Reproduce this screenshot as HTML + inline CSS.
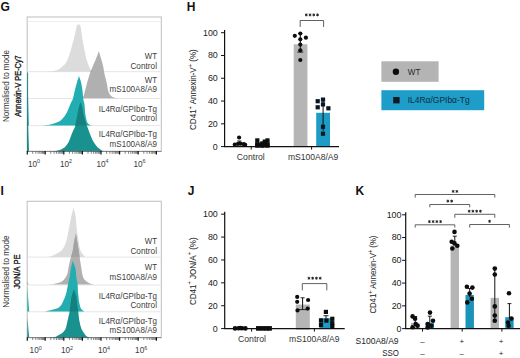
<!DOCTYPE html>
<html><head><meta charset="utf-8"><style>
html,body{margin:0;padding:0;background:#fff;}
svg{display:block;font-family:"Liberation Sans", sans-serif;}
</style></head><body>
<svg width="520" height="358" viewBox="0 0 520 358">
<defs><clipPath id="clipLG"><path d="M40.00 71.70 C41.33 71.67 45.58 71.67 48.00 71.50 C50.42 71.33 52.67 71.08 54.50 70.70 C56.33 70.32 57.32 70.22 59.00 69.20 C60.68 68.18 63.10 66.38 64.60 64.60 C66.10 62.82 67.00 60.80 68.00 58.50 C69.00 56.20 69.48 54.65 70.60 50.80 C71.72 46.95 73.63 39.60 74.70 35.40 C75.77 31.20 76.32 27.40 77.00 25.60 C77.68 23.80 78.50 24.77 78.80 24.60 C79.07 24.77 79.88 23.80 80.40 25.60 C80.92 27.40 81.20 31.20 81.90 35.40 C82.60 39.60 83.87 46.95 84.60 50.80 C85.33 54.65 85.70 56.20 86.30 58.50 C86.90 60.80 87.52 62.82 88.20 64.60 C88.88 66.38 89.63 68.02 90.40 69.20 C91.17 70.38 92.40 71.28 92.80 71.70 Z"/></clipPath><clipPath id="clipG"><path d="M40.00 125.50 C41.00 125.45 44.25 125.37 46.00 125.20 C47.75 125.03 48.58 124.98 50.50 124.50 C52.42 124.02 55.72 123.03 57.50 122.30 C59.28 121.57 59.87 121.35 61.20 120.10 C62.53 118.85 64.33 116.58 65.50 114.80 C66.67 113.02 67.38 111.20 68.20 109.40 C69.02 107.60 69.63 105.72 70.40 104.00 C71.17 102.28 72.08 101.27 72.80 99.10 C73.52 96.93 74.03 93.70 74.70 91.00 C75.37 88.30 76.08 85.38 76.80 82.90 C77.52 80.42 78.63 77.23 79.00 76.10 C79.37 77.23 80.62 80.42 81.20 82.90 C81.78 85.38 82.15 88.30 82.50 91.00 C82.85 93.70 82.98 96.93 83.30 99.10 C83.62 101.27 84.13 102.28 84.40 104.00 C84.67 105.72 84.73 107.60 84.90 109.40 C85.07 111.20 85.13 113.02 85.40 114.80 C85.67 116.58 86.22 118.85 86.50 120.10 C86.78 121.35 86.65 121.57 87.10 122.30 C87.55 123.03 88.38 123.97 89.20 124.50 C90.02 125.03 91.53 125.33 92.00 125.50 Z"/></clipPath><clipPath id="clipLI"><path d="M44.00 257.00 C45.00 256.92 48.00 257.00 50.00 256.50 C52.00 256.00 54.13 254.95 56.00 254.00 C57.87 253.05 59.78 252.13 61.20 250.80 C62.62 249.47 63.58 247.85 64.50 246.00 C65.42 244.15 66.07 242.08 66.70 239.70 C67.33 237.32 67.77 234.37 68.30 231.70 C68.83 229.03 69.37 226.37 69.90 223.70 C70.43 221.03 70.88 218.35 71.50 215.70 C72.12 213.05 73.25 209.12 73.60 207.80 C73.92 209.12 75.05 213.05 75.50 215.70 C75.95 218.35 76.03 221.03 76.30 223.70 C76.57 226.37 76.75 229.03 77.10 231.70 C77.45 234.37 78.03 237.32 78.40 239.70 C78.77 242.08 78.93 244.15 79.30 246.00 C79.67 247.85 80.05 249.47 80.60 250.80 C81.15 252.13 81.78 252.97 82.60 254.00 C83.42 255.03 85.02 256.50 85.50 257.00 Z"/></clipPath><clipPath id="clipI"><path d="M44.00 311.60 C44.92 311.42 47.35 311.00 49.50 310.50 C51.65 310.00 55.02 309.43 56.90 308.60 C58.78 307.77 59.72 306.80 60.80 305.50 C61.88 304.20 62.67 302.28 63.40 300.80 C64.13 299.32 64.68 298.07 65.20 296.60 C65.72 295.13 66.03 294.02 66.50 292.00 C66.97 289.98 67.48 287.00 68.00 284.50 C68.52 282.00 69.12 279.65 69.60 277.00 C70.08 274.35 70.40 271.27 70.90 268.60 C71.40 265.93 72.32 262.27 72.60 261.00 C73.08 262.27 74.88 265.93 75.50 268.60 C76.12 271.27 75.95 274.35 76.30 277.00 C76.65 279.65 77.32 282.00 77.60 284.50 C77.88 287.00 77.85 289.98 78.00 292.00 C78.15 294.02 78.35 295.13 78.50 296.60 C78.65 298.07 78.68 299.40 78.90 300.80 C79.12 302.20 79.47 303.70 79.80 305.00 C80.13 306.30 80.40 307.68 80.90 308.60 C81.40 309.52 82.12 310.00 82.80 310.50 C83.48 311.00 84.63 311.42 85.00 311.60 Z"/></clipPath></defs>
<rect width="520" height="358" fill="#fff"/>
<rect x="27.2" y="17" width="134.10000000000002" height="134.4" fill="#fff" stroke="#c4c4c4" stroke-width="1.1"/>
<line x1="28" y1="71.7" x2="160.8" y2="71.7" stroke="#e6e6e6" stroke-width="1"/>
<line x1="28" y1="98.5" x2="160.8" y2="98.5" stroke="#e6e6e6" stroke-width="1"/>
<line x1="28" y1="125.6" x2="160.8" y2="125.6" stroke="#e6e6e6" stroke-width="1"/>
<path d="M40.00 71.70 C41.33 71.67 45.58 71.67 48.00 71.50 C50.42 71.33 52.67 71.08 54.50 70.70 C56.33 70.32 57.32 70.22 59.00 69.20 C60.68 68.18 63.10 66.38 64.60 64.60 C66.10 62.82 67.00 60.80 68.00 58.50 C69.00 56.20 69.48 54.65 70.60 50.80 C71.72 46.95 73.63 39.60 74.70 35.40 C75.77 31.20 76.32 27.40 77.00 25.60 C77.68 23.80 78.50 24.77 78.80 24.60 C79.07 24.77 79.88 23.80 80.40 25.60 C80.92 27.40 81.20 31.20 81.90 35.40 C82.60 39.60 83.87 46.95 84.60 50.80 C85.33 54.65 85.70 56.20 86.30 58.50 C86.90 60.80 87.52 62.82 88.20 64.60 C88.88 66.38 89.63 68.02 90.40 69.20 C91.17 70.38 92.40 71.28 92.80 71.70 Z" fill="#dcdcdc" />
<path d="M81.00 98.30 C81.40 98.00 82.75 97.68 83.40 96.50 C84.05 95.32 84.27 93.53 84.90 91.20 C85.53 88.87 86.40 85.37 87.20 82.50 C88.00 79.63 88.82 76.58 89.70 74.00 C90.58 71.42 91.53 69.33 92.50 67.00 C93.47 64.67 94.43 62.63 95.50 60.00 C96.57 57.37 98.33 52.67 98.90 51.20 C99.33 52.67 100.77 57.37 101.50 60.00 C102.23 62.63 102.80 64.67 103.30 67.00 C103.80 69.33 103.95 71.42 104.50 74.00 C105.05 76.58 105.97 79.67 106.60 82.50 C107.23 85.33 107.65 88.88 108.30 91.00 C108.95 93.12 109.58 94.10 110.50 95.20 C111.42 96.30 112.55 97.08 113.80 97.60 C115.05 98.12 117.30 98.18 118.00 98.30 Z" fill="#b0b0b0" />
<path d="M81.00 98.30 C81.40 98.00 82.75 97.68 83.40 96.50 C84.05 95.32 84.27 93.53 84.90 91.20 C85.53 88.87 86.40 85.37 87.20 82.50 C88.00 79.63 88.82 76.58 89.70 74.00 C90.58 71.42 91.53 69.33 92.50 67.00 C93.47 64.67 94.43 62.63 95.50 60.00 C96.57 57.37 98.33 52.67 98.90 51.20 C99.33 52.67 100.77 57.37 101.50 60.00 C102.23 62.63 102.80 64.67 103.30 67.00 C103.80 69.33 103.95 71.42 104.50 74.00 C105.05 76.58 105.97 79.67 106.60 82.50 C107.23 85.33 107.65 88.88 108.30 91.00 C108.95 93.12 109.58 94.10 110.50 95.20 C111.42 96.30 112.55 97.08 113.80 97.60 C115.05 98.12 117.30 98.18 118.00 98.30 Z" fill="#a3a3a3" clip-path="url(#clipLG)"/>
<path d="M40.00 125.50 C41.00 125.45 44.25 125.37 46.00 125.20 C47.75 125.03 48.58 124.98 50.50 124.50 C52.42 124.02 55.72 123.03 57.50 122.30 C59.28 121.57 59.87 121.35 61.20 120.10 C62.53 118.85 64.33 116.58 65.50 114.80 C66.67 113.02 67.38 111.20 68.20 109.40 C69.02 107.60 69.63 105.72 70.40 104.00 C71.17 102.28 72.08 101.27 72.80 99.10 C73.52 96.93 74.03 93.70 74.70 91.00 C75.37 88.30 76.08 85.38 76.80 82.90 C77.52 80.42 78.63 77.23 79.00 76.10 C79.37 77.23 80.62 80.42 81.20 82.90 C81.78 85.38 82.15 88.30 82.50 91.00 C82.85 93.70 82.98 96.93 83.30 99.10 C83.62 101.27 84.13 102.28 84.40 104.00 C84.67 105.72 84.73 107.60 84.90 109.40 C85.07 111.20 85.13 113.02 85.40 114.80 C85.67 116.58 86.22 118.85 86.50 120.10 C86.78 121.35 86.65 121.57 87.10 122.30 C87.55 123.03 88.38 123.97 89.20 124.50 C90.02 125.03 91.53 125.33 92.00 125.50 Z" fill="#22aeb1" />
<path d="M48.00 151.60 C48.67 151.57 50.75 151.50 52.00 151.40 C53.25 151.30 54.42 151.18 55.50 151.00 C56.58 150.82 57.50 150.60 58.50 150.30 C59.50 150.00 60.42 149.77 61.50 149.20 C62.58 148.63 63.83 148.05 65.00 146.90 C66.17 145.75 67.53 144.03 68.50 142.30 C69.47 140.57 70.05 138.38 70.80 136.50 C71.55 134.62 72.33 132.53 73.00 131.00 C73.67 129.47 74.35 128.55 74.80 127.30 C75.25 126.05 75.28 125.47 75.70 123.50 C76.12 121.53 76.77 118.15 77.30 115.50 C77.83 112.85 78.37 109.85 78.90 107.60 C79.43 105.35 80.23 102.93 80.50 102.00 C80.77 102.93 81.57 105.35 82.10 107.60 C82.63 109.85 83.05 112.85 83.70 115.50 C84.35 118.15 85.37 121.53 86.00 123.50 C86.63 125.47 86.67 125.13 87.50 127.30 C88.33 129.47 89.95 134.00 91.00 136.50 C92.05 139.00 92.75 140.57 93.80 142.30 C94.85 144.03 96.23 145.75 97.30 146.90 C98.37 148.05 99.17 148.42 100.20 149.20 C101.23 149.98 102.95 151.20 103.50 151.60 Z" fill="#19918f" />
<path d="M48.00 151.60 C48.67 151.57 50.75 151.50 52.00 151.40 C53.25 151.30 54.42 151.18 55.50 151.00 C56.58 150.82 57.50 150.60 58.50 150.30 C59.50 150.00 60.42 149.77 61.50 149.20 C62.58 148.63 63.83 148.05 65.00 146.90 C66.17 145.75 67.53 144.03 68.50 142.30 C69.47 140.57 70.05 138.38 70.80 136.50 C71.55 134.62 72.33 132.53 73.00 131.00 C73.67 129.47 74.35 128.55 74.80 127.30 C75.25 126.05 75.28 125.47 75.70 123.50 C76.12 121.53 76.77 118.15 77.30 115.50 C77.83 112.85 78.37 109.85 78.90 107.60 C79.43 105.35 80.23 102.93 80.50 102.00 C80.77 102.93 81.57 105.35 82.10 107.60 C82.63 109.85 83.05 112.85 83.70 115.50 C84.35 118.15 85.37 121.53 86.00 123.50 C86.63 125.47 86.67 125.13 87.50 127.30 C88.33 129.47 89.95 134.00 91.00 136.50 C92.05 139.00 92.75 140.57 93.80 142.30 C94.85 144.03 96.23 145.75 97.30 146.90 C98.37 148.05 99.17 148.42 100.20 149.20 C101.23 149.98 102.95 151.20 103.50 151.60 Z" fill="#15807e" clip-path="url(#clipG)"/>
<path d="M27.3 125.5 L27.3 72.2 L28.9 125.5 Z" fill="#22aeb1"/>
<path d="M27.3 151.4 L27.3 99 L29 151.4 Z" fill="#19918f"/>
<line x1="27.6" y1="72.5" x2="27.6" y2="151.4" stroke="#16807f" stroke-width="0.9"/>
<text x="157" y="59.0" font-size="8.3" text-anchor="end" font-weight="normal" fill="#3c3c3c" textLength="12.2" lengthAdjust="spacingAndGlyphs" >WT</text>
<text x="157" y="68.8" font-size="8.3" text-anchor="end" font-weight="normal" fill="#3c3c3c" textLength="26.6" lengthAdjust="spacingAndGlyphs" >Control</text>
<text x="157" y="82.9" font-size="8.3" text-anchor="end" font-weight="normal" fill="#3c3c3c" textLength="12.2" lengthAdjust="spacingAndGlyphs" >WT</text>
<text x="157" y="92.4" font-size="8.3" text-anchor="end" font-weight="normal" fill="#3c3c3c" textLength="47.4" lengthAdjust="spacingAndGlyphs" >mS100A8/A9</text>
<text x="157" y="111.8" font-size="8.3" text-anchor="end" font-weight="normal" fill="#3c3c3c" textLength="58.2" lengthAdjust="spacingAndGlyphs" >IL4R&#945;/GPIb&#945;-Tg</text>
<text x="157" y="120.7" font-size="8.3" text-anchor="end" font-weight="normal" fill="#3c3c3c" textLength="26.6" lengthAdjust="spacingAndGlyphs" >Control</text>
<text x="157" y="137.3" font-size="8.3" text-anchor="end" font-weight="normal" fill="#3c3c3c" textLength="58.2" lengthAdjust="spacingAndGlyphs" >IL4R&#945;/GPIb&#945;-Tg</text>
<text x="157" y="147.0" font-size="8.3" text-anchor="end" font-weight="normal" fill="#3c3c3c" textLength="47.4" lengthAdjust="spacingAndGlyphs" >mS100A8/A9</text>
<line x1="27.3" y1="151.4" x2="161.3" y2="151.4" stroke="#666" stroke-width="0.7"/>
<line x1="32.69" y1="151.4" x2="32.69" y2="153.8" stroke="#333" stroke-width="0.6"/>
<line x1="35.84" y1="151.4" x2="35.84" y2="153.8" stroke="#333" stroke-width="0.6"/>
<line x1="38.08" y1="151.4" x2="38.08" y2="153.8" stroke="#333" stroke-width="0.6"/>
<line x1="39.81" y1="151.4" x2="39.81" y2="153.8" stroke="#333" stroke-width="0.6"/>
<line x1="41.23" y1="151.4" x2="41.23" y2="153.8" stroke="#333" stroke-width="0.6"/>
<line x1="42.43" y1="151.4" x2="42.43" y2="153.8" stroke="#333" stroke-width="0.6"/>
<line x1="43.47" y1="151.4" x2="43.47" y2="153.8" stroke="#333" stroke-width="0.6"/>
<line x1="44.38" y1="151.4" x2="44.38" y2="153.8" stroke="#333" stroke-width="0.6"/>
<line x1="27.30" y1="151.1" x2="27.30" y2="154.6" stroke="#111" stroke-width="1.2"/>
<line x1="50.80" y1="151.4" x2="50.80" y2="153.8" stroke="#333" stroke-width="0.6"/>
<line x1="54.07" y1="151.4" x2="54.07" y2="153.8" stroke="#333" stroke-width="0.6"/>
<line x1="56.40" y1="151.4" x2="56.40" y2="153.8" stroke="#333" stroke-width="0.6"/>
<line x1="58.20" y1="151.4" x2="58.20" y2="153.8" stroke="#333" stroke-width="0.6"/>
<line x1="59.67" y1="151.4" x2="59.67" y2="153.8" stroke="#333" stroke-width="0.6"/>
<line x1="60.92" y1="151.4" x2="60.92" y2="153.8" stroke="#333" stroke-width="0.6"/>
<line x1="62.00" y1="151.4" x2="62.00" y2="153.8" stroke="#333" stroke-width="0.6"/>
<line x1="62.95" y1="151.4" x2="62.95" y2="153.8" stroke="#333" stroke-width="0.6"/>
<line x1="45.20" y1="151.1" x2="45.20" y2="154.6" stroke="#111" stroke-width="1.2"/>
<line x1="69.40" y1="151.4" x2="69.40" y2="153.8" stroke="#333" stroke-width="0.6"/>
<line x1="72.67" y1="151.4" x2="72.67" y2="153.8" stroke="#333" stroke-width="0.6"/>
<line x1="75.00" y1="151.4" x2="75.00" y2="153.8" stroke="#333" stroke-width="0.6"/>
<line x1="76.80" y1="151.4" x2="76.80" y2="153.8" stroke="#333" stroke-width="0.6"/>
<line x1="78.27" y1="151.4" x2="78.27" y2="153.8" stroke="#333" stroke-width="0.6"/>
<line x1="79.52" y1="151.4" x2="79.52" y2="153.8" stroke="#333" stroke-width="0.6"/>
<line x1="80.60" y1="151.4" x2="80.60" y2="153.8" stroke="#333" stroke-width="0.6"/>
<line x1="81.55" y1="151.4" x2="81.55" y2="153.8" stroke="#333" stroke-width="0.6"/>
<line x1="63.80" y1="151.1" x2="63.80" y2="154.6" stroke="#111" stroke-width="1.2"/>
<line x1="88.00" y1="151.4" x2="88.00" y2="153.8" stroke="#333" stroke-width="0.6"/>
<line x1="91.27" y1="151.4" x2="91.27" y2="153.8" stroke="#333" stroke-width="0.6"/>
<line x1="93.60" y1="151.4" x2="93.60" y2="153.8" stroke="#333" stroke-width="0.6"/>
<line x1="95.40" y1="151.4" x2="95.40" y2="153.8" stroke="#333" stroke-width="0.6"/>
<line x1="96.87" y1="151.4" x2="96.87" y2="153.8" stroke="#333" stroke-width="0.6"/>
<line x1="98.12" y1="151.4" x2="98.12" y2="153.8" stroke="#333" stroke-width="0.6"/>
<line x1="99.20" y1="151.4" x2="99.20" y2="153.8" stroke="#333" stroke-width="0.6"/>
<line x1="100.15" y1="151.4" x2="100.15" y2="153.8" stroke="#333" stroke-width="0.6"/>
<line x1="82.40" y1="151.1" x2="82.40" y2="154.6" stroke="#111" stroke-width="1.2"/>
<line x1="106.60" y1="151.4" x2="106.60" y2="153.8" stroke="#333" stroke-width="0.6"/>
<line x1="109.87" y1="151.4" x2="109.87" y2="153.8" stroke="#333" stroke-width="0.6"/>
<line x1="112.20" y1="151.4" x2="112.20" y2="153.8" stroke="#333" stroke-width="0.6"/>
<line x1="114.00" y1="151.4" x2="114.00" y2="153.8" stroke="#333" stroke-width="0.6"/>
<line x1="115.47" y1="151.4" x2="115.47" y2="153.8" stroke="#333" stroke-width="0.6"/>
<line x1="116.72" y1="151.4" x2="116.72" y2="153.8" stroke="#333" stroke-width="0.6"/>
<line x1="117.80" y1="151.4" x2="117.80" y2="153.8" stroke="#333" stroke-width="0.6"/>
<line x1="118.75" y1="151.4" x2="118.75" y2="153.8" stroke="#333" stroke-width="0.6"/>
<line x1="101.00" y1="151.1" x2="101.00" y2="154.6" stroke="#111" stroke-width="1.2"/>
<line x1="125.20" y1="151.4" x2="125.20" y2="153.8" stroke="#333" stroke-width="0.6"/>
<line x1="128.47" y1="151.4" x2="128.47" y2="153.8" stroke="#333" stroke-width="0.6"/>
<line x1="130.80" y1="151.4" x2="130.80" y2="153.8" stroke="#333" stroke-width="0.6"/>
<line x1="132.60" y1="151.4" x2="132.60" y2="153.8" stroke="#333" stroke-width="0.6"/>
<line x1="134.07" y1="151.4" x2="134.07" y2="153.8" stroke="#333" stroke-width="0.6"/>
<line x1="135.32" y1="151.4" x2="135.32" y2="153.8" stroke="#333" stroke-width="0.6"/>
<line x1="136.40" y1="151.4" x2="136.40" y2="153.8" stroke="#333" stroke-width="0.6"/>
<line x1="137.35" y1="151.4" x2="137.35" y2="153.8" stroke="#333" stroke-width="0.6"/>
<line x1="119.60" y1="151.1" x2="119.60" y2="154.6" stroke="#111" stroke-width="1.2"/>
<line x1="143.80" y1="151.4" x2="143.80" y2="153.8" stroke="#333" stroke-width="0.6"/>
<line x1="147.07" y1="151.4" x2="147.07" y2="153.8" stroke="#333" stroke-width="0.6"/>
<line x1="149.40" y1="151.4" x2="149.40" y2="153.8" stroke="#333" stroke-width="0.6"/>
<line x1="151.20" y1="151.4" x2="151.20" y2="153.8" stroke="#333" stroke-width="0.6"/>
<line x1="152.67" y1="151.4" x2="152.67" y2="153.8" stroke="#333" stroke-width="0.6"/>
<line x1="153.92" y1="151.4" x2="153.92" y2="153.8" stroke="#333" stroke-width="0.6"/>
<line x1="155.00" y1="151.4" x2="155.00" y2="153.8" stroke="#333" stroke-width="0.6"/>
<line x1="155.95" y1="151.4" x2="155.95" y2="153.8" stroke="#333" stroke-width="0.6"/>
<line x1="138.20" y1="151.1" x2="138.20" y2="154.6" stroke="#111" stroke-width="1.2"/>
<line x1="156.4" y1="151.1" x2="156.4" y2="154.6" stroke="#111" stroke-width="1.2"/>
<text x="28.0" y="166.7" font-size="8.2" fill="#3c3c3c">10<tspan font-size="5.4" dy="-3.7">0</tspan></text>
<text x="60.0" y="166.7" font-size="8.2" fill="#3c3c3c">10<tspan font-size="5.4" dy="-3.7">2</tspan></text>
<text x="96.4" y="166.7" font-size="8.2" fill="#3c3c3c">10<tspan font-size="5.4" dy="-3.7">4</tspan></text>
<text x="133.39999999999998" y="166.7" font-size="8.2" fill="#3c3c3c">10<tspan font-size="5.4" dy="-3.7">6</tspan></text>
<text x="8.7" y="86" font-size="8.8" text-anchor="middle" font-weight="normal" fill="#333" textLength="72" lengthAdjust="spacingAndGlyphs" transform="rotate(-90 8.7 86)" >Normalised to mode</text>
<text x="20.5" y="86" font-size="8.8" text-anchor="middle" font-weight="normal" fill="#1a1a1a" textLength="61.3" lengthAdjust="spacingAndGlyphs" transform="rotate(-90 20.5 86)" stroke="#1a1a1a" stroke-width="0.35">Annexin-V PE-Cy7</text>
<text x="0.6" y="10.9" font-size="12" text-anchor="start" font-weight="bold" fill="#111" >G</text>
<line x1="28" y1="21.5" x2="160.8" y2="21.5" stroke="#efefef" stroke-width="1"/>
<rect x="27.2" y="201.3" width="134.10000000000002" height="136.3" fill="#fff" stroke="#c4c4c4" stroke-width="1.1"/>
<line x1="28" y1="257.1" x2="160.8" y2="257.1" stroke="#e6e6e6" stroke-width="1"/>
<line x1="28" y1="285" x2="160.8" y2="285" stroke="#e6e6e6" stroke-width="1"/>
<line x1="28" y1="311.8" x2="160.8" y2="311.8" stroke="#e6e6e6" stroke-width="1"/>
<path d="M44.00 257.00 C45.00 256.92 48.00 257.00 50.00 256.50 C52.00 256.00 54.13 254.95 56.00 254.00 C57.87 253.05 59.78 252.13 61.20 250.80 C62.62 249.47 63.58 247.85 64.50 246.00 C65.42 244.15 66.07 242.08 66.70 239.70 C67.33 237.32 67.77 234.37 68.30 231.70 C68.83 229.03 69.37 226.37 69.90 223.70 C70.43 221.03 70.88 218.35 71.50 215.70 C72.12 213.05 73.25 209.12 73.60 207.80 C73.92 209.12 75.05 213.05 75.50 215.70 C75.95 218.35 76.03 221.03 76.30 223.70 C76.57 226.37 76.75 229.03 77.10 231.70 C77.45 234.37 78.03 237.32 78.40 239.70 C78.77 242.08 78.93 244.15 79.30 246.00 C79.67 247.85 80.05 249.47 80.60 250.80 C81.15 252.13 81.78 252.97 82.60 254.00 C83.42 255.03 85.02 256.50 85.50 257.00 Z" fill="#dcdcdc" />
<path d="M48.00 284.50 C49.00 284.42 52.08 284.32 54.00 284.00 C55.92 283.68 58.08 283.08 59.50 282.60 C60.92 282.12 61.43 282.03 62.50 281.10 C63.57 280.17 65.05 278.35 65.90 277.00 C66.75 275.65 67.18 274.40 67.60 273.00 C68.02 271.60 67.98 270.73 68.40 268.60 C68.82 266.47 69.38 263.13 70.10 260.20 C70.82 257.27 72.07 253.87 72.70 251.00 C73.33 248.13 73.37 245.90 73.90 243.00 C74.43 240.10 75.57 235.17 75.90 233.60 C76.17 235.17 77.02 240.10 77.50 243.00 C77.98 245.90 78.37 248.13 78.80 251.00 C79.23 253.87 79.67 257.27 80.10 260.20 C80.53 263.13 80.92 265.80 81.40 268.60 C81.88 271.40 82.23 274.92 83.00 277.00 C83.77 279.08 84.92 280.05 86.00 281.10 C87.08 282.15 88.17 282.73 89.50 283.30 C90.83 283.87 93.25 284.30 94.00 284.50 Z" fill="#b0b0b0" />
<path d="M48.00 284.50 C49.00 284.42 52.08 284.32 54.00 284.00 C55.92 283.68 58.08 283.08 59.50 282.60 C60.92 282.12 61.43 282.03 62.50 281.10 C63.57 280.17 65.05 278.35 65.90 277.00 C66.75 275.65 67.18 274.40 67.60 273.00 C68.02 271.60 67.98 270.73 68.40 268.60 C68.82 266.47 69.38 263.13 70.10 260.20 C70.82 257.27 72.07 253.87 72.70 251.00 C73.33 248.13 73.37 245.90 73.90 243.00 C74.43 240.10 75.57 235.17 75.90 233.60 C76.17 235.17 77.02 240.10 77.50 243.00 C77.98 245.90 78.37 248.13 78.80 251.00 C79.23 253.87 79.67 257.27 80.10 260.20 C80.53 263.13 80.92 265.80 81.40 268.60 C81.88 271.40 82.23 274.92 83.00 277.00 C83.77 279.08 84.92 280.05 86.00 281.10 C87.08 282.15 88.17 282.73 89.50 283.30 C90.83 283.87 93.25 284.30 94.00 284.50 Z" fill="#a3a3a3" clip-path="url(#clipLI)"/>
<path d="M44.00 311.60 C44.92 311.42 47.35 311.00 49.50 310.50 C51.65 310.00 55.02 309.43 56.90 308.60 C58.78 307.77 59.72 306.80 60.80 305.50 C61.88 304.20 62.67 302.28 63.40 300.80 C64.13 299.32 64.68 298.07 65.20 296.60 C65.72 295.13 66.03 294.02 66.50 292.00 C66.97 289.98 67.48 287.00 68.00 284.50 C68.52 282.00 69.12 279.65 69.60 277.00 C70.08 274.35 70.40 271.27 70.90 268.60 C71.40 265.93 72.32 262.27 72.60 261.00 C73.08 262.27 74.88 265.93 75.50 268.60 C76.12 271.27 75.95 274.35 76.30 277.00 C76.65 279.65 77.32 282.00 77.60 284.50 C77.88 287.00 77.85 289.98 78.00 292.00 C78.15 294.02 78.35 295.13 78.50 296.60 C78.65 298.07 78.68 299.40 78.90 300.80 C79.12 302.20 79.47 303.70 79.80 305.00 C80.13 306.30 80.40 307.68 80.90 308.60 C81.40 309.52 82.12 310.00 82.80 310.50 C83.48 311.00 84.63 311.42 85.00 311.60 Z" fill="#22aeb1" />
<path d="M48.00 337.90 C49.15 337.75 53.33 337.35 54.90 337.00 C56.47 336.65 56.22 336.42 57.40 335.80 C58.58 335.18 60.78 334.22 62.00 333.30 C63.22 332.38 64.02 331.32 64.70 330.30 C65.38 329.28 65.63 328.73 66.10 327.20 C66.57 325.67 67.08 322.97 67.50 321.10 C67.92 319.23 68.25 317.57 68.60 316.00 C68.95 314.43 69.28 313.53 69.60 311.70 C69.92 309.87 70.15 307.52 70.50 305.00 C70.85 302.48 71.13 299.17 71.70 296.60 C72.27 294.03 73.53 290.77 73.90 289.60 C74.30 290.77 75.75 294.03 76.30 296.60 C76.85 299.17 76.87 302.48 77.20 305.00 C77.53 307.52 77.97 309.23 78.30 311.70 C78.63 314.17 78.75 317.15 79.20 319.80 C79.65 322.45 80.38 325.65 81.00 327.60 C81.62 329.55 82.12 330.20 82.90 331.50 C83.68 332.80 84.85 334.48 85.70 335.40 C86.55 336.32 87.20 336.58 88.00 337.00 C88.80 337.42 90.08 337.75 90.50 337.90 Z" fill="#19918f" />
<path d="M48.00 337.90 C49.15 337.75 53.33 337.35 54.90 337.00 C56.47 336.65 56.22 336.42 57.40 335.80 C58.58 335.18 60.78 334.22 62.00 333.30 C63.22 332.38 64.02 331.32 64.70 330.30 C65.38 329.28 65.63 328.73 66.10 327.20 C66.57 325.67 67.08 322.97 67.50 321.10 C67.92 319.23 68.25 317.57 68.60 316.00 C68.95 314.43 69.28 313.53 69.60 311.70 C69.92 309.87 70.15 307.52 70.50 305.00 C70.85 302.48 71.13 299.17 71.70 296.60 C72.27 294.03 73.53 290.77 73.90 289.60 C74.30 290.77 75.75 294.03 76.30 296.60 C76.85 299.17 76.87 302.48 77.20 305.00 C77.53 307.52 77.97 309.23 78.30 311.70 C78.63 314.17 78.75 317.15 79.20 319.80 C79.65 322.45 80.38 325.65 81.00 327.60 C81.62 329.55 82.12 330.20 82.90 331.50 C83.68 332.80 84.85 334.48 85.70 335.40 C86.55 336.32 87.20 336.58 88.00 337.00 C88.80 337.42 90.08 337.75 90.50 337.90 Z" fill="#15807e" clip-path="url(#clipI)"/>
<path d="M27.3 284.5 L27.3 280.5 L28.6 284.5 Z" fill="#b0b0b0"/>
<path d="M27.3 311.6 L27.3 286.5 L29.2 311.6 Z" fill="#22aeb1"/>
<path d="M27.3 337.6 L27.3 317.5 L29.2 337.6 Z" fill="#19918f"/>
<text x="157" y="244.1" font-size="8.3" text-anchor="end" font-weight="normal" fill="#3c3c3c" textLength="12.2" lengthAdjust="spacingAndGlyphs" >WT</text>
<text x="157" y="253.8" font-size="8.3" text-anchor="end" font-weight="normal" fill="#3c3c3c" textLength="26.6" lengthAdjust="spacingAndGlyphs" >Control</text>
<text x="157" y="270.4" font-size="8.3" text-anchor="end" font-weight="normal" fill="#3c3c3c" textLength="12.2" lengthAdjust="spacingAndGlyphs" >WT</text>
<text x="157" y="279.8" font-size="8.3" text-anchor="end" font-weight="normal" fill="#3c3c3c" textLength="47.4" lengthAdjust="spacingAndGlyphs" >mS100A8/A9</text>
<text x="157" y="298.6" font-size="8.3" text-anchor="end" font-weight="normal" fill="#3c3c3c" textLength="58.2" lengthAdjust="spacingAndGlyphs" >IL4R&#945;/GPIb&#945;-Tg</text>
<text x="157" y="308.1" font-size="8.3" text-anchor="end" font-weight="normal" fill="#3c3c3c" textLength="26.6" lengthAdjust="spacingAndGlyphs" >Control</text>
<text x="157" y="323.8" font-size="8.3" text-anchor="end" font-weight="normal" fill="#3c3c3c" textLength="58.2" lengthAdjust="spacingAndGlyphs" >IL4R&#945;/GPIb&#945;-Tg</text>
<text x="157" y="333.0" font-size="8.3" text-anchor="end" font-weight="normal" fill="#3c3c3c" textLength="47.4" lengthAdjust="spacingAndGlyphs" >mS100A8/A9</text>
<line x1="27.3" y1="337.6" x2="161.3" y2="337.6" stroke="#666" stroke-width="0.7"/>
<line x1="32.69" y1="337.6" x2="32.69" y2="340.0" stroke="#333" stroke-width="0.6"/>
<line x1="35.84" y1="337.6" x2="35.84" y2="340.0" stroke="#333" stroke-width="0.6"/>
<line x1="38.08" y1="337.6" x2="38.08" y2="340.0" stroke="#333" stroke-width="0.6"/>
<line x1="39.81" y1="337.6" x2="39.81" y2="340.0" stroke="#333" stroke-width="0.6"/>
<line x1="41.23" y1="337.6" x2="41.23" y2="340.0" stroke="#333" stroke-width="0.6"/>
<line x1="42.43" y1="337.6" x2="42.43" y2="340.0" stroke="#333" stroke-width="0.6"/>
<line x1="43.47" y1="337.6" x2="43.47" y2="340.0" stroke="#333" stroke-width="0.6"/>
<line x1="44.38" y1="337.6" x2="44.38" y2="340.0" stroke="#333" stroke-width="0.6"/>
<line x1="27.30" y1="337.3" x2="27.30" y2="340.8" stroke="#111" stroke-width="1.2"/>
<line x1="50.80" y1="337.6" x2="50.80" y2="340.0" stroke="#333" stroke-width="0.6"/>
<line x1="54.07" y1="337.6" x2="54.07" y2="340.0" stroke="#333" stroke-width="0.6"/>
<line x1="56.40" y1="337.6" x2="56.40" y2="340.0" stroke="#333" stroke-width="0.6"/>
<line x1="58.20" y1="337.6" x2="58.20" y2="340.0" stroke="#333" stroke-width="0.6"/>
<line x1="59.67" y1="337.6" x2="59.67" y2="340.0" stroke="#333" stroke-width="0.6"/>
<line x1="60.92" y1="337.6" x2="60.92" y2="340.0" stroke="#333" stroke-width="0.6"/>
<line x1="62.00" y1="337.6" x2="62.00" y2="340.0" stroke="#333" stroke-width="0.6"/>
<line x1="62.95" y1="337.6" x2="62.95" y2="340.0" stroke="#333" stroke-width="0.6"/>
<line x1="45.20" y1="337.3" x2="45.20" y2="340.8" stroke="#111" stroke-width="1.2"/>
<line x1="69.40" y1="337.6" x2="69.40" y2="340.0" stroke="#333" stroke-width="0.6"/>
<line x1="72.67" y1="337.6" x2="72.67" y2="340.0" stroke="#333" stroke-width="0.6"/>
<line x1="75.00" y1="337.6" x2="75.00" y2="340.0" stroke="#333" stroke-width="0.6"/>
<line x1="76.80" y1="337.6" x2="76.80" y2="340.0" stroke="#333" stroke-width="0.6"/>
<line x1="78.27" y1="337.6" x2="78.27" y2="340.0" stroke="#333" stroke-width="0.6"/>
<line x1="79.52" y1="337.6" x2="79.52" y2="340.0" stroke="#333" stroke-width="0.6"/>
<line x1="80.60" y1="337.6" x2="80.60" y2="340.0" stroke="#333" stroke-width="0.6"/>
<line x1="81.55" y1="337.6" x2="81.55" y2="340.0" stroke="#333" stroke-width="0.6"/>
<line x1="63.80" y1="337.3" x2="63.80" y2="340.8" stroke="#111" stroke-width="1.2"/>
<line x1="88.00" y1="337.6" x2="88.00" y2="340.0" stroke="#333" stroke-width="0.6"/>
<line x1="91.27" y1="337.6" x2="91.27" y2="340.0" stroke="#333" stroke-width="0.6"/>
<line x1="93.60" y1="337.6" x2="93.60" y2="340.0" stroke="#333" stroke-width="0.6"/>
<line x1="95.40" y1="337.6" x2="95.40" y2="340.0" stroke="#333" stroke-width="0.6"/>
<line x1="96.87" y1="337.6" x2="96.87" y2="340.0" stroke="#333" stroke-width="0.6"/>
<line x1="98.12" y1="337.6" x2="98.12" y2="340.0" stroke="#333" stroke-width="0.6"/>
<line x1="99.20" y1="337.6" x2="99.20" y2="340.0" stroke="#333" stroke-width="0.6"/>
<line x1="100.15" y1="337.6" x2="100.15" y2="340.0" stroke="#333" stroke-width="0.6"/>
<line x1="82.40" y1="337.3" x2="82.40" y2="340.8" stroke="#111" stroke-width="1.2"/>
<line x1="106.60" y1="337.6" x2="106.60" y2="340.0" stroke="#333" stroke-width="0.6"/>
<line x1="109.87" y1="337.6" x2="109.87" y2="340.0" stroke="#333" stroke-width="0.6"/>
<line x1="112.20" y1="337.6" x2="112.20" y2="340.0" stroke="#333" stroke-width="0.6"/>
<line x1="114.00" y1="337.6" x2="114.00" y2="340.0" stroke="#333" stroke-width="0.6"/>
<line x1="115.47" y1="337.6" x2="115.47" y2="340.0" stroke="#333" stroke-width="0.6"/>
<line x1="116.72" y1="337.6" x2="116.72" y2="340.0" stroke="#333" stroke-width="0.6"/>
<line x1="117.80" y1="337.6" x2="117.80" y2="340.0" stroke="#333" stroke-width="0.6"/>
<line x1="118.75" y1="337.6" x2="118.75" y2="340.0" stroke="#333" stroke-width="0.6"/>
<line x1="101.00" y1="337.3" x2="101.00" y2="340.8" stroke="#111" stroke-width="1.2"/>
<line x1="125.20" y1="337.6" x2="125.20" y2="340.0" stroke="#333" stroke-width="0.6"/>
<line x1="128.47" y1="337.6" x2="128.47" y2="340.0" stroke="#333" stroke-width="0.6"/>
<line x1="130.80" y1="337.6" x2="130.80" y2="340.0" stroke="#333" stroke-width="0.6"/>
<line x1="132.60" y1="337.6" x2="132.60" y2="340.0" stroke="#333" stroke-width="0.6"/>
<line x1="134.07" y1="337.6" x2="134.07" y2="340.0" stroke="#333" stroke-width="0.6"/>
<line x1="135.32" y1="337.6" x2="135.32" y2="340.0" stroke="#333" stroke-width="0.6"/>
<line x1="136.40" y1="337.6" x2="136.40" y2="340.0" stroke="#333" stroke-width="0.6"/>
<line x1="137.35" y1="337.6" x2="137.35" y2="340.0" stroke="#333" stroke-width="0.6"/>
<line x1="119.60" y1="337.3" x2="119.60" y2="340.8" stroke="#111" stroke-width="1.2"/>
<line x1="143.80" y1="337.6" x2="143.80" y2="340.0" stroke="#333" stroke-width="0.6"/>
<line x1="147.07" y1="337.6" x2="147.07" y2="340.0" stroke="#333" stroke-width="0.6"/>
<line x1="149.40" y1="337.6" x2="149.40" y2="340.0" stroke="#333" stroke-width="0.6"/>
<line x1="151.20" y1="337.6" x2="151.20" y2="340.0" stroke="#333" stroke-width="0.6"/>
<line x1="152.67" y1="337.6" x2="152.67" y2="340.0" stroke="#333" stroke-width="0.6"/>
<line x1="153.92" y1="337.6" x2="153.92" y2="340.0" stroke="#333" stroke-width="0.6"/>
<line x1="155.00" y1="337.6" x2="155.00" y2="340.0" stroke="#333" stroke-width="0.6"/>
<line x1="155.95" y1="337.6" x2="155.95" y2="340.0" stroke="#333" stroke-width="0.6"/>
<line x1="138.20" y1="337.3" x2="138.20" y2="340.8" stroke="#111" stroke-width="1.2"/>
<line x1="156.4" y1="337.3" x2="156.4" y2="340.8" stroke="#111" stroke-width="1.2"/>
<text x="29.599999999999998" y="353.4" font-size="8.2" fill="#3c3c3c">10<tspan font-size="5.4" dy="-3.7">0</tspan></text>
<text x="61.0" y="353.4" font-size="8.2" fill="#3c3c3c">10<tspan font-size="5.4" dy="-3.7">2</tspan></text>
<text x="97.9" y="353.4" font-size="8.2" fill="#3c3c3c">10<tspan font-size="5.4" dy="-3.7">4</tspan></text>
<text x="135.1" y="353.4" font-size="8.2" fill="#3c3c3c">10<tspan font-size="5.4" dy="-3.7">6</tspan></text>
<text x="8.7" y="271.6" font-size="8.8" text-anchor="middle" font-weight="normal" fill="#333" textLength="72.2" lengthAdjust="spacingAndGlyphs" transform="rotate(-90 8.7 271.6)" >Normalised to mode</text>
<text x="20.5" y="271.6" font-size="8.8" text-anchor="middle" font-weight="normal" fill="#1a1a1a" textLength="34.5" lengthAdjust="spacingAndGlyphs" transform="rotate(-90 20.5 271.6)" stroke="#1a1a1a" stroke-width="0.35">JON/A PE</text>
<text x="0.6" y="194.9" font-size="12" text-anchor="start" font-weight="bold" fill="#111" >I</text>
<text x="186.8" y="10.7" font-size="12" text-anchor="start" font-weight="bold" fill="#111" >H</text>
<rect x="233.2" y="142.96" width="13.5" height="3.64" fill="#b5b5b5"/>
<rect x="255.5" y="142.27" width="13.8" height="4.33" fill="#1e9cc6"/>
<rect x="293.7" y="44.3" width="13.7" height="102.30" fill="#b5b5b5"/>
<rect x="316.2" y="112.8" width="13.8" height="33.80" fill="#1e9cc6"/>
<line x1="224.6" y1="29.9" x2="224.6" y2="147.1" stroke="#111" stroke-width="1.2"/>
<line x1="224.0" y1="146.6" x2="339" y2="146.6" stroke="#111" stroke-width="1.2"/>
<line x1="221.0" y1="146.60" x2="224.6" y2="146.60" stroke="#111" stroke-width="1"/>
<text x="217.8" y="149.5" font-size="8.9" text-anchor="end" font-weight="normal" fill="#222" >0</text>
<line x1="221.0" y1="123.82" x2="224.6" y2="123.82" stroke="#111" stroke-width="1"/>
<text x="217.8" y="126.72" font-size="8.9" text-anchor="end" font-weight="normal" fill="#222" >20</text>
<line x1="221.0" y1="101.04" x2="224.6" y2="101.04" stroke="#111" stroke-width="1"/>
<text x="217.8" y="103.94" font-size="8.9" text-anchor="end" font-weight="normal" fill="#222" >40</text>
<line x1="221.0" y1="78.26" x2="224.6" y2="78.26" stroke="#111" stroke-width="1"/>
<text x="217.8" y="81.16000000000001" font-size="8.9" text-anchor="end" font-weight="normal" fill="#222" >60</text>
<line x1="221.0" y1="55.48" x2="224.6" y2="55.48" stroke="#111" stroke-width="1"/>
<text x="217.8" y="58.37999999999999" font-size="8.9" text-anchor="end" font-weight="normal" fill="#222" >80</text>
<line x1="221.0" y1="32.70" x2="224.6" y2="32.70" stroke="#111" stroke-width="1"/>
<text x="217.8" y="35.59999999999999" font-size="8.9" text-anchor="end" font-weight="normal" fill="#222" >100</text>
<line x1="300.3" y1="33.5" x2="300.3" y2="52.1" stroke="#111" stroke-width="1"/><line x1="298.3" y1="33.5" x2="302.3" y2="33.5" stroke="#111" stroke-width="0.9"/><line x1="297.3" y1="52.1" x2="303.3" y2="52.1" stroke="#111" stroke-width="0.9"/>
<line x1="323.1" y1="99.5" x2="323.1" y2="131" stroke="#111" stroke-width="1"/><line x1="321.1" y1="99.5" x2="325.1" y2="99.5" stroke="#111" stroke-width="0.9"/>
<line x1="239.3" y1="141" x2="239.3" y2="145" stroke="#111" stroke-width="1"/><line x1="237.3" y1="141" x2="241.3" y2="141" stroke="#111" stroke-width="0.9"/>
<circle cx="294.8" cy="35.8" r="2.1" fill="#0d0d0d"/>
<circle cx="300.3" cy="33.5" r="2.1" fill="#0d0d0d"/>
<circle cx="305.9" cy="37.7" r="2.1" fill="#0d0d0d"/>
<circle cx="300.3" cy="39.3" r="2.1" fill="#0d0d0d"/>
<circle cx="300.3" cy="44.6" r="2.1" fill="#0d0d0d"/>
<circle cx="300.3" cy="50.3" r="2.1" fill="#0d0d0d"/>
<circle cx="300.3" cy="60" r="2.1" fill="#0d0d0d"/>
<rect x="315.60" y="99.10" width="4.2" height="4.2" fill="#0a1826"/>
<rect x="320.90" y="97.50" width="4.2" height="4.2" fill="#0a1826"/>
<rect x="320.90" y="102.30" width="4.2" height="4.2" fill="#0a1826"/>
<rect x="315.60" y="105.20" width="4.2" height="4.2" fill="#0a1826"/>
<rect x="326.30" y="106.20" width="4.2" height="4.2" fill="#0a1826"/>
<rect x="320.90" y="124.70" width="4.2" height="4.2" fill="#0a1826"/>
<rect x="320.90" y="131.60" width="4.2" height="4.2" fill="#0a1826"/>
<circle cx="239.1" cy="137.5" r="2.1" fill="#0d0d0d"/>
<circle cx="234.8" cy="144.6" r="2.1" fill="#0d0d0d"/>
<circle cx="238" cy="143.8" r="2.1" fill="#0d0d0d"/>
<circle cx="240.5" cy="143.6" r="2.1" fill="#0d0d0d"/>
<circle cx="243.8" cy="144.2" r="2.1" fill="#0d0d0d"/>
<circle cx="245.2" cy="144.8" r="2.1" fill="#0d0d0d"/>
<rect x="255.20" y="138.30" width="4.2" height="4.2" fill="#0d0d0d"/>
<rect x="255.20" y="142.20" width="4.2" height="4.2" fill="#0d0d0d"/>
<rect x="255.20" y="143.50" width="4.2" height="4.2" fill="#0d0d0d"/>
<rect x="258.20" y="143.10" width="4.2" height="4.2" fill="#0d0d0d"/>
<rect x="260.20" y="141.30" width="4.2" height="4.2" fill="#0d0d0d"/>
<rect x="260.20" y="143.50" width="4.2" height="4.2" fill="#0d0d0d"/>
<rect x="262.70" y="139.50" width="4.2" height="4.2" fill="#0d0d0d"/>
<rect x="262.90" y="143.10" width="4.2" height="4.2" fill="#0d0d0d"/>
<rect x="265.40" y="138.30" width="4.2" height="4.2" fill="#0d0d0d"/>
<rect x="265.40" y="142.20" width="4.2" height="4.2" fill="#0d0d0d"/>
<rect x="265.40" y="143.50" width="4.2" height="4.2" fill="#0d0d0d"/>
<line x1="251.2" y1="146.6" x2="251.2" y2="149.6" stroke="#111" stroke-width="1"/>
<line x1="311.6" y1="146.6" x2="311.6" y2="149.6" stroke="#111" stroke-width="1"/>
<text x="250.8" y="159.6" font-size="8.8" text-anchor="middle" font-weight="normal" fill="#333" textLength="28" lengthAdjust="spacingAndGlyphs" >Control</text>
<text x="313.1" y="159.6" font-size="8.8" text-anchor="middle" font-weight="normal" fill="#333" textLength="50.4" lengthAdjust="spacingAndGlyphs" >mS100A8/A9</text>
<path d="M300.2 27.0 L300.2 20.5 L323.6 20.5 L323.6 27.0" fill="none" stroke="#3a3a3a" stroke-width="0.8"/><path d="M306.27 13.45 L306.27 16.35 M305.02 14.18 L307.53 15.62 M305.02 15.62 L307.53 14.18 " stroke="#222" stroke-width="0.95" fill="none"/><path d="M310.02 13.45 L310.02 16.35 M308.77 14.18 L311.28 15.62 M308.77 15.62 L311.28 14.18 " stroke="#222" stroke-width="0.95" fill="none"/><path d="M313.77 13.45 L313.77 16.35 M312.52 14.18 L315.03 15.62 M312.52 15.62 L315.03 14.18 " stroke="#222" stroke-width="0.95" fill="none"/><path d="M317.52 13.45 L317.52 16.35 M316.27 14.18 L318.78 15.62 M316.27 15.62 L318.78 14.18 " stroke="#222" stroke-width="0.95" fill="none"/>
<text x="195.6" y="89.6" font-size="9.5" text-anchor="middle" font-weight="normal" fill="#262626" textLength="80.7" lengthAdjust="spacingAndGlyphs" transform="rotate(-90 195.6 89.6)" stroke="#262626" stroke-width="0.05">CD41<tspan font-size="6.6" dy="-3.1">+</tspan><tspan dy="3.1"> Annexin-V</tspan><tspan font-size="6.6" dy="-3.1">+</tspan><tspan dy="3.1"> (%)</tspan></text>
<rect x="381.4" y="61.3" width="57.2" height="20.5" fill="#b4b4b4"/>
<rect x="381.4" y="90.2" width="102.8" height="20" fill="#1e9dc8"/>
<circle cx="395.9" cy="71.7" r="3.2" fill="#0d0d0d"/>
<rect x="393.2" y="97" width="6.4" height="6.4" fill="#0f1a24"/>
<text x="407.8" y="75.1" font-size="8.8" text-anchor="start" font-weight="normal" fill="#2a2a2a" textLength="12.6" lengthAdjust="spacingAndGlyphs" >WT</text>
<text x="407.7" y="102.5" font-size="8.8" text-anchor="start" font-weight="normal" fill="#0e2c3c" textLength="62" lengthAdjust="spacingAndGlyphs" >IL4R&#945;/GPIb&#945;-Tg</text>
<text x="187.8" y="195.1" font-size="12" text-anchor="start" font-weight="bold" fill="#111" >J</text>
<rect x="295.8" y="304.58" width="14" height="25.17" fill="#b5b5b5"/>
<rect x="319.4" y="318.19" width="13.5" height="10.87" fill="#1e9cc6"/>
<line x1="224.7" y1="211.7" x2="224.7" y2="329.1" stroke="#111" stroke-width="1.2"/>
<line x1="224.1" y1="328.6" x2="344.7" y2="328.6" stroke="#111" stroke-width="1.2"/>
<line x1="221.1" y1="328.60" x2="224.7" y2="328.60" stroke="#111" stroke-width="1"/>
<text x="217.8" y="331.5" font-size="8.9" text-anchor="end" font-weight="normal" fill="#222" >0</text>
<line x1="221.1" y1="305.72" x2="224.7" y2="305.72" stroke="#111" stroke-width="1"/>
<text x="217.8" y="308.62" font-size="8.9" text-anchor="end" font-weight="normal" fill="#222" >20</text>
<line x1="221.1" y1="282.84" x2="224.7" y2="282.84" stroke="#111" stroke-width="1"/>
<text x="217.8" y="285.74" font-size="8.9" text-anchor="end" font-weight="normal" fill="#222" >40</text>
<line x1="221.1" y1="259.96" x2="224.7" y2="259.96" stroke="#111" stroke-width="1"/>
<text x="217.8" y="262.86" font-size="8.9" text-anchor="end" font-weight="normal" fill="#222" >60</text>
<line x1="221.1" y1="237.08" x2="224.7" y2="237.08" stroke="#111" stroke-width="1"/>
<text x="217.8" y="239.98" font-size="8.9" text-anchor="end" font-weight="normal" fill="#222" >80</text>
<line x1="221.1" y1="214.20" x2="224.7" y2="214.20" stroke="#111" stroke-width="1"/>
<text x="217.8" y="217.1" font-size="8.9" text-anchor="end" font-weight="normal" fill="#222" >100</text>
<line x1="302.6" y1="297.8" x2="302.6" y2="309.6" stroke="#111" stroke-width="1"/><line x1="300.6" y1="297.8" x2="304.6" y2="297.8" stroke="#111" stroke-width="0.9"/><line x1="298.1" y1="309.6" x2="307.1" y2="309.6" stroke="#111" stroke-width="0.9"/>
<line x1="326" y1="315.7" x2="326" y2="318.5" stroke="#111" stroke-width="1"/><line x1="323.5" y1="315.7" x2="328.5" y2="315.7" stroke="#111" stroke-width="0.9"/>
<circle cx="297.2" cy="296.9" r="2.1" fill="#0d0d0d"/>
<circle cx="297.2" cy="301.8" r="2.1" fill="#0d0d0d"/>
<circle cx="308.1" cy="300" r="2.1" fill="#0d0d0d"/>
<circle cx="297.5" cy="310.4" r="2.1" fill="#0d0d0d"/>
<circle cx="307.7" cy="308.6" r="2.1" fill="#0d0d0d"/>
<rect x="323.80" y="309.80" width="4.2" height="4.2" fill="#0d0d0d"/>
<rect x="318.90" y="318.40" width="4.2" height="4.2" fill="#0d0d0d"/>
<rect x="318.90" y="322.90" width="4.2" height="4.2" fill="#0d0d0d"/>
<rect x="324.30" y="318.50" width="4.2" height="4.2" fill="#0d0d0d"/>
<rect x="330.20" y="316.70" width="4.2" height="4.2" fill="#0d0d0d"/>
<rect x="330.20" y="321.10" width="4.2" height="4.2" fill="#0d0d0d"/>
<rect x="330.20" y="324.10" width="4.2" height="4.2" fill="#0d0d0d"/>
<circle cx="235" cy="328.4" r="2.3" fill="#0d0d0d"/>
<circle cx="238.5" cy="328.2" r="2.3" fill="#0d0d0d"/>
<circle cx="242" cy="328.2" r="2.3" fill="#0d0d0d"/>
<circle cx="245.4" cy="328.4" r="2.3" fill="#0d0d0d"/>
<circle cx="240.2" cy="328" r="2.3" fill="#0d0d0d"/>
<rect x="256.00" y="326.10" width="4.6" height="4.6" fill="#0d0d0d"/>
<rect x="260.00" y="326.10" width="4.6" height="4.6" fill="#0d0d0d"/>
<rect x="264.00" y="326.10" width="4.6" height="4.6" fill="#0d0d0d"/>
<rect x="267.30" y="326.10" width="4.6" height="4.6" fill="#0d0d0d"/>
<line x1="251.6" y1="328.6" x2="251.6" y2="331.6" stroke="#111" stroke-width="1"/>
<line x1="314.4" y1="328.6" x2="314.4" y2="331.6" stroke="#111" stroke-width="1"/>
<text x="252" y="341.9" font-size="8.8" text-anchor="middle" font-weight="normal" fill="#333" textLength="28" lengthAdjust="spacingAndGlyphs" >Control</text>
<text x="314.3" y="341.9" font-size="8.8" text-anchor="middle" font-weight="normal" fill="#333" textLength="50.4" lengthAdjust="spacingAndGlyphs" >mS100A8/A9</text>
<path d="M302.3 290.40000000000003 L302.3 283.6 L326.8 283.6 L326.8 290.40000000000003" fill="none" stroke="#3a3a3a" stroke-width="0.8"/><path d="M308.93 276.75 L308.93 279.65 M307.67 277.47 L310.18 278.93 M307.67 278.93 L310.18 277.47 " stroke="#222" stroke-width="0.95" fill="none"/><path d="M312.68 276.75 L312.68 279.65 M311.42 277.47 L313.93 278.93 M311.42 278.93 L313.93 277.47 " stroke="#222" stroke-width="0.95" fill="none"/><path d="M316.43 276.75 L316.43 279.65 M315.17 277.47 L317.68 278.93 M315.17 278.93 L317.68 277.47 " stroke="#222" stroke-width="0.95" fill="none"/><path d="M320.18 276.75 L320.18 279.65 M318.92 277.47 L321.43 278.93 M318.92 278.93 L321.43 277.47 " stroke="#222" stroke-width="0.95" fill="none"/>
<text x="195.6" y="271.2" font-size="9.5" text-anchor="middle" font-weight="normal" fill="#262626" textLength="67.8" lengthAdjust="spacingAndGlyphs" transform="rotate(-90 195.6 271.2)" stroke="#262626" stroke-width="0.05">CD41<tspan font-size="6.6" dy="-3.1">+</tspan><tspan dy="3.1"> JON/A</tspan><tspan font-size="6.6" dy="-3.1">+</tspan><tspan dy="3.1"> (%)</tspan></text>
<text x="355.6" y="195.1" font-size="12" text-anchor="start" font-weight="bold" fill="#111" >K</text>
<rect x="411.00" y="322.91" width="8.4" height="5.69" fill="#b5b5b5"/>
<rect x="425.60" y="322.91" width="8.4" height="5.69" fill="#1a93b8"/>
<rect x="450.60" y="245.53" width="8.4" height="83.07" fill="#b5b5b5"/>
<rect x="465.50" y="295.03" width="8.4" height="33.57" fill="#1a93b8"/>
<rect x="490.60" y="297.87" width="8.4" height="30.73" fill="#b5b5b5"/>
<rect x="505.20" y="317.22" width="8.4" height="11.38" fill="#1a93b8"/>
<line x1="405.7" y1="212.2" x2="405.7" y2="329.1" stroke="#111" stroke-width="1.2"/>
<line x1="405.09999999999997" y1="328.6" x2="520" y2="328.6" stroke="#111" stroke-width="1.2"/>
<line x1="402.09999999999997" y1="328.60" x2="405.7" y2="328.60" stroke="#111" stroke-width="1"/>
<text x="401.5" y="331.5" font-size="8.9" text-anchor="end" font-weight="normal" fill="#222" >0</text>
<line x1="402.09999999999997" y1="305.84" x2="405.7" y2="305.84" stroke="#111" stroke-width="1"/>
<text x="401.5" y="308.74" font-size="8.9" text-anchor="end" font-weight="normal" fill="#222" >20</text>
<line x1="402.09999999999997" y1="283.08" x2="405.7" y2="283.08" stroke="#111" stroke-width="1"/>
<text x="401.5" y="285.98" font-size="8.9" text-anchor="end" font-weight="normal" fill="#222" >40</text>
<line x1="402.09999999999997" y1="260.32" x2="405.7" y2="260.32" stroke="#111" stroke-width="1"/>
<text x="401.5" y="263.21999999999997" font-size="8.9" text-anchor="end" font-weight="normal" fill="#222" >60</text>
<line x1="402.09999999999997" y1="237.56" x2="405.7" y2="237.56" stroke="#111" stroke-width="1"/>
<text x="401.5" y="240.46" font-size="8.9" text-anchor="end" font-weight="normal" fill="#222" >80</text>
<line x1="402.09999999999997" y1="214.80" x2="405.7" y2="214.80" stroke="#111" stroke-width="1"/>
<text x="401.5" y="217.70000000000002" font-size="8.9" text-anchor="end" font-weight="normal" fill="#222" >100</text>
<line x1="415.2" y1="316.5" x2="415.2" y2="326" stroke="#111" stroke-width="1"/><line x1="413.2" y1="316.5" x2="417.2" y2="316.5" stroke="#111" stroke-width="0.9"/>
<line x1="429.8" y1="316.2" x2="429.8" y2="325" stroke="#111" stroke-width="1"/><line x1="427.8" y1="316.2" x2="431.8" y2="316.2" stroke="#111" stroke-width="0.9"/>
<line x1="454.8" y1="236.2" x2="454.8" y2="245" stroke="#111" stroke-width="1"/><line x1="452.8" y1="236.2" x2="456.8" y2="236.2" stroke="#111" stroke-width="0.9"/>
<line x1="469.7" y1="288.5" x2="469.7" y2="297" stroke="#111" stroke-width="1"/><line x1="467.7" y1="288.5" x2="471.7" y2="288.5" stroke="#111" stroke-width="0.9"/>
<line x1="494.8" y1="268" x2="494.8" y2="322" stroke="#111" stroke-width="1"/><line x1="492.8" y1="268" x2="496.8" y2="268" stroke="#111" stroke-width="0.9"/>
<line x1="509.4" y1="303.6" x2="509.4" y2="318" stroke="#111" stroke-width="1"/><line x1="507.4" y1="303.6" x2="511.4" y2="303.6" stroke="#111" stroke-width="0.9"/>
<circle cx="412.6" cy="316.4" r="2.3" fill="#0d0d0d"/>
<circle cx="415.1" cy="318.7" r="2.3" fill="#0d0d0d"/>
<circle cx="415.7" cy="324" r="2.3" fill="#0d0d0d"/>
<circle cx="417.6" cy="325.8" r="2.3" fill="#0d0d0d"/>
<circle cx="412.6" cy="327.3" r="2.3" fill="#0d0d0d"/>
<circle cx="430" cy="312.6" r="2.3" fill="#0d0d0d"/>
<circle cx="433" cy="320.8" r="2.3" fill="#0d0d0d"/>
<circle cx="427.7" cy="324" r="2.3" fill="#0d0d0d"/>
<circle cx="431.4" cy="325.8" r="2.3" fill="#0d0d0d"/>
<circle cx="427.7" cy="327.5" r="2.3" fill="#0d0d0d"/>
<circle cx="454.5" cy="231.9" r="2.3" fill="#0d0d0d"/>
<circle cx="451.7" cy="241.8" r="2.3" fill="#0d0d0d"/>
<circle cx="454.5" cy="243.4" r="2.3" fill="#0d0d0d"/>
<circle cx="457.3" cy="245.7" r="2.3" fill="#0d0d0d"/>
<circle cx="452.3" cy="248.5" r="2.3" fill="#0d0d0d"/>
<circle cx="466.9" cy="286.7" r="2.3" fill="#0d0d0d"/>
<circle cx="472.4" cy="287.6" r="2.3" fill="#0d0d0d"/>
<circle cx="469.6" cy="293.6" r="2.3" fill="#0d0d0d"/>
<circle cx="471.8" cy="298.7" r="2.3" fill="#0d0d0d"/>
<circle cx="467.3" cy="302.4" r="2.3" fill="#0d0d0d"/>
<circle cx="494.8" cy="268.6" r="2.3" fill="#0d0d0d"/>
<circle cx="494.8" cy="274.5" r="2.3" fill="#0d0d0d"/>
<circle cx="494.8" cy="306.4" r="2.3" fill="#0d0d0d"/>
<circle cx="494.8" cy="315.5" r="2.3" fill="#0d0d0d"/>
<circle cx="494.8" cy="320.7" r="2.3" fill="#0d0d0d"/>
<circle cx="509" cy="293.3" r="2.3" fill="#0d0d0d"/>
<circle cx="511.4" cy="318.6" r="2.3" fill="#0d0d0d"/>
<circle cx="508" cy="322.6" r="2.3" fill="#0d0d0d"/>
<circle cx="508.6" cy="325.7" r="2.3" fill="#0d0d0d"/>
<line x1="422.5" y1="328.6" x2="422.5" y2="331.6" stroke="#111" stroke-width="1"/>
<line x1="462.2" y1="328.6" x2="462.2" y2="331.6" stroke="#111" stroke-width="1"/>
<line x1="501.9" y1="328.6" x2="501.9" y2="331.6" stroke="#111" stroke-width="1"/>
<text x="398.6" y="344" font-size="8.8" text-anchor="end" font-weight="normal" fill="#222" textLength="43" lengthAdjust="spacingAndGlyphs" >S100A8/A9</text>
<text x="398.9" y="355.9" font-size="8.8" text-anchor="end" font-weight="normal" fill="#222" textLength="16.6" lengthAdjust="spacingAndGlyphs" >SSO</text>
<text x="422.6" y="344" font-size="8" text-anchor="middle" font-weight="normal" fill="#222" >&#8211;</text>
<text x="461.8" y="344" font-size="8" text-anchor="middle" font-weight="normal" fill="#222" >+</text>
<text x="501" y="344" font-size="8" text-anchor="middle" font-weight="normal" fill="#222" >+</text>
<text x="422.6" y="355.6" font-size="8" text-anchor="middle" font-weight="normal" fill="#222" >&#8211;</text>
<text x="461.8" y="355.6" font-size="8" text-anchor="middle" font-weight="normal" fill="#222" >&#8211;</text>
<text x="501" y="355.6" font-size="8" text-anchor="middle" font-weight="normal" fill="#222" >+</text>
<path d="M415.2 197.6 L415.2 194.5 L494.8 194.5 L494.8 197.6" fill="none" stroke="#3a3a3a" stroke-width="0.8"/><path d="M453.12 189.95 L453.12 192.85 M451.87 190.68 L454.38 192.12 M451.87 192.12 L454.38 190.68 " stroke="#222" stroke-width="0.95" fill="none"/><path d="M456.88 189.95 L456.88 192.85 M455.62 190.68 L458.13 192.12 M455.62 192.12 L458.13 190.68 " stroke="#222" stroke-width="0.95" fill="none"/>
<path d="M429.8 207.3 L429.8 204.5 L469.7 204.5 L469.7 207.3" fill="none" stroke="#3a3a3a" stroke-width="0.8"/><path d="M447.88 199.65 L447.88 202.55 M446.62 200.38 L449.13 201.82 M446.62 201.82 L449.13 200.38 " stroke="#222" stroke-width="0.95" fill="none"/><path d="M451.62 199.65 L451.62 202.55 M450.37 200.38 L452.88 201.82 M450.37 201.82 L452.88 200.38 " stroke="#222" stroke-width="0.95" fill="none"/>
<path d="M454.8 217.8 L454.8 214.3 L494.8 214.3 L494.8 217.8" fill="none" stroke="#3a3a3a" stroke-width="0.8"/><path d="M469.18 209.75 L469.18 212.65 M467.92 210.47 L470.43 211.92 M467.92 211.92 L470.43 210.47 " stroke="#222" stroke-width="0.95" fill="none"/><path d="M472.93 209.75 L472.93 212.65 M471.67 210.47 L474.18 211.92 M471.67 211.92 L474.18 210.47 " stroke="#222" stroke-width="0.95" fill="none"/><path d="M476.68 209.75 L476.68 212.65 M475.42 210.47 L477.93 211.92 M475.42 211.92 L477.93 210.47 " stroke="#222" stroke-width="0.95" fill="none"/><path d="M480.43 209.75 L480.43 212.65 M479.17 210.47 L481.68 211.92 M479.17 211.92 L481.68 210.47 " stroke="#222" stroke-width="0.95" fill="none"/>
<path d="M415.2 227.60000000000002 L415.2 224.8 L454.8 224.8 L454.8 227.60000000000002" fill="none" stroke="#3a3a3a" stroke-width="0.8"/><path d="M429.38 220.15 L429.38 223.05 M428.12 220.88 L430.63 222.32 M428.12 222.32 L430.63 220.88 " stroke="#222" stroke-width="0.95" fill="none"/><path d="M433.12 220.15 L433.12 223.05 M431.87 220.88 L434.38 222.32 M431.87 222.32 L434.38 220.88 " stroke="#222" stroke-width="0.95" fill="none"/><path d="M436.88 220.15 L436.88 223.05 M435.62 220.88 L438.13 222.32 M435.62 222.32 L438.13 220.88 " stroke="#222" stroke-width="0.95" fill="none"/><path d="M440.62 220.15 L440.62 223.05 M439.37 220.88 L441.88 222.32 M439.37 222.32 L441.88 220.88 " stroke="#222" stroke-width="0.95" fill="none"/>
<path d="M469.7 227.6 L469.7 224.5 L509.4 224.5 L509.4 227.6" fill="none" stroke="#3a3a3a" stroke-width="0.8"/><path d="M489.55 219.85 L489.55 222.75 M488.29 220.58 L490.81 222.03 M488.29 222.03 L490.81 220.58 " stroke="#222" stroke-width="0.95" fill="none"/>
<text x="375.8" y="274.6" font-size="9.5" text-anchor="middle" font-weight="normal" fill="#262626" textLength="78" lengthAdjust="spacingAndGlyphs" transform="rotate(-90 375.8 274.6)" stroke="#262626" stroke-width="0.05">CD41<tspan font-size="6.6" dy="-3.1">+</tspan><tspan dy="3.1"> Annexin-V</tspan><tspan font-size="6.6" dy="-3.1">+</tspan><tspan dy="3.1"> (%)</tspan></text>
</svg></body></html>
